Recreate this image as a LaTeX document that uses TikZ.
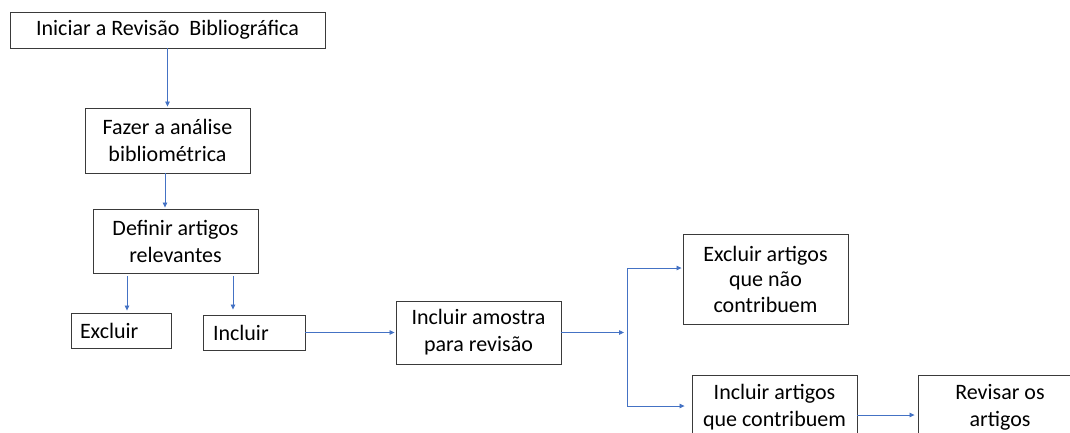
\documentclass[tikz,border=0pt]{standalone}
\usepackage{fontspec}
\setmainfont{Carlito}
\usetikzlibrary{arrows.meta}
\definecolor{arr}{HTML}{4472C4}
\definecolor{brd}{HTML}{3A3A3A}
\begin{document}
\begin{tikzpicture}[x=1pt,y=-1pt,
  box/.style={draw=brd, line width=0.9pt, rectangle, inner sep=0pt, align=center,
    font=\fontsize{22}{27}\selectfont},
  conn/.style={draw=arr, line width=0.8pt, -{Triangle[length=5pt,width=4.5pt]}},
  plain/.style={draw=arr, line width=0.8pt}]
\useasboundingbox (0,0) rectangle (1070,432);
\clip (0,0) rectangle (1070,432);
\node[box, minimum width=315pt, minimum height=36pt] (b1) at (167.5,30) {Iniciar a Revisão\ \ Bibliográfica};
\node[box, minimum width=165pt, minimum height=65pt] (b2) at (167.5,140.5) {Fazer a análise\\bibliométrica};
\node[box, minimum width=165pt, minimum height=64pt] (b3) at (175.5,241) {Definir artigos\\relevantes};
\node[box, minimum width=100pt, minimum height=35pt, text width=82pt, inner xsep=9pt, align=left] (ex) at (121,330.5) {Excluir};
\node[box, minimum width=102pt, minimum height=35pt, text width=82pt, inner xsep=10pt, align=left] (inc) at (254,332.5) {Incluir};
\node[box, minimum width=165pt, minimum height=63pt] (am) at (478.5,332.5) {Incluir amostra\\para revisão};
\node[box, minimum width=165pt, minimum height=90pt, font=\fontsize{22}{25.5}\selectfont] (ea) at (765.5,279) {Excluir artigos\\que não\\contribuem};
\node[box, minimum width=165pt, minimum height=64pt] (ia) at (774.5,407) {Incluir artigos\\que contribuem};
\node[box, minimum width=164pt, minimum height=64pt] (rv) at (1000,407) {Revisar os\\artigos};
\coordinate (j) at (627,332.5);
\coordinate (j1) at (627,268);
\coordinate (j2) at (627,406);
\draw[conn, shorten >=1pt] (b1) -- (b2);
\draw[conn, shorten >=1pt] ([xshift=-2.5pt]b2.south) -- ([xshift=-2.5pt]b2.south |- b3.north);
\draw[conn, shorten <=3pt, shorten >=2pt] ([xshift=6pt]ex.north |- b3.south) -- ([xshift=6pt]ex.north);
\draw[conn, shorten <=3pt, shorten >=5pt] ([xshift=-21pt]inc.north |- b3.south) -- ([xshift=-21pt]inc.north);
\draw[conn, shorten >=1pt] (inc) -- (am);
\draw[conn, shorten >=3pt] (am) -- (j);
\draw[plain] (j1) -- (j2);
\draw[conn, shorten >=1pt] (j1) -- (j1 -| ea.west);
\draw[conn, shorten >=7pt] (j2) -- (j2 -| ia.west);
\draw[conn, shorten >=3pt] ([yshift=-8pt]ia.east) -- ([yshift=-8pt]ia.east -| rv.west);
\end{tikzpicture}
\end{document}
